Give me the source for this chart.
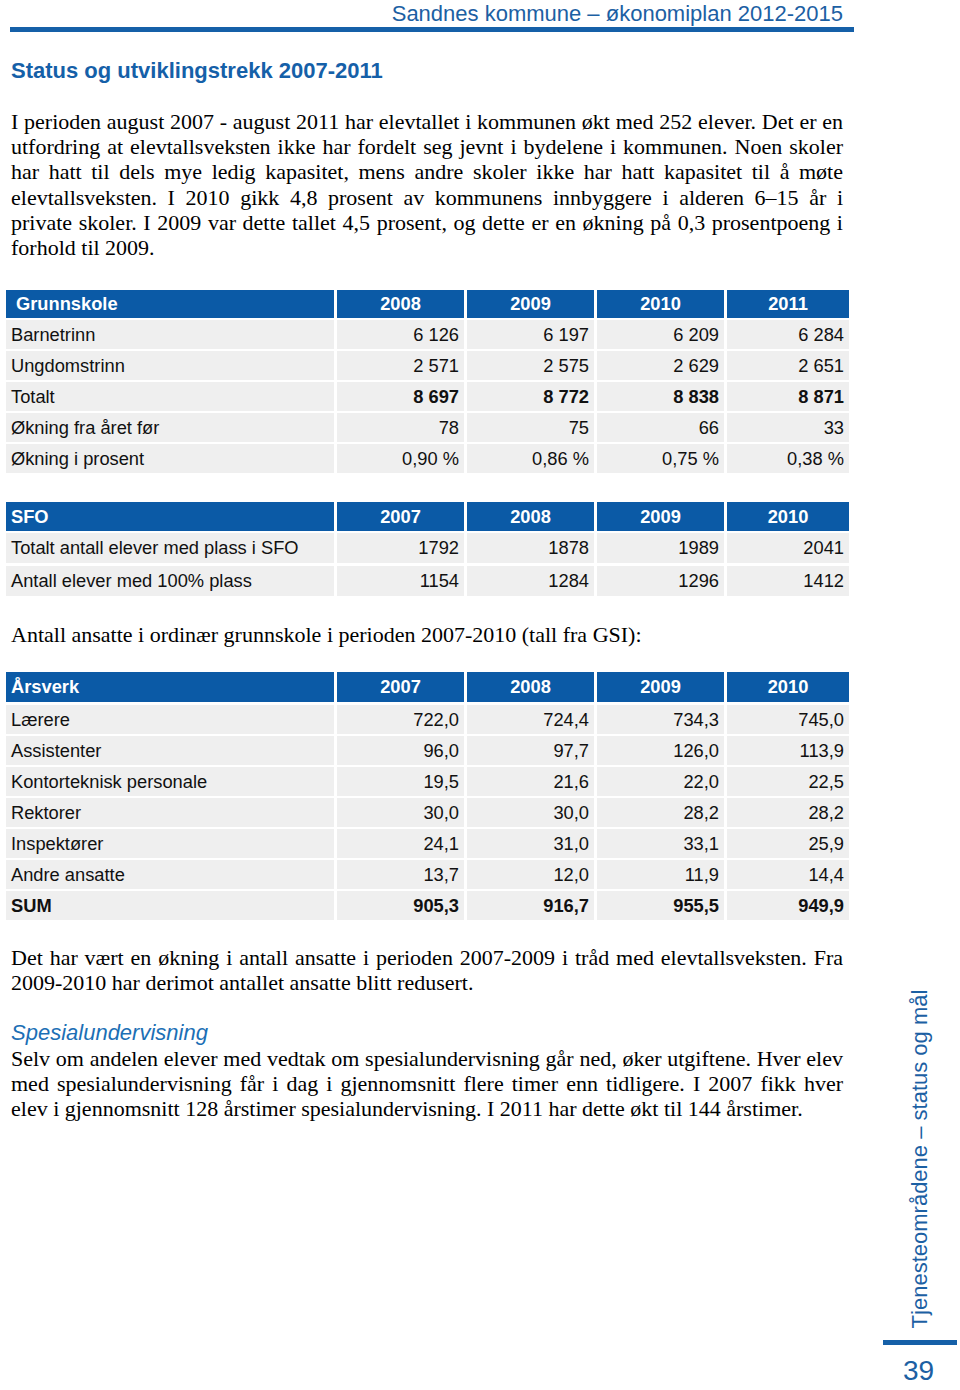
<!DOCTYPE html>
<html>
<head>
<meta charset="utf-8">
<script src="https://cdn.jsdelivr.net/npm/chart.js@4"></script>
<style>
  body { margin: 0; width: 960px; height: 1390px; background: #fff; position: relative; overflow: hidden; }
  .abs { position: absolute; }
  .serif { font-family: "Liberation Serif", "Times New Roman", serif; font-size: 22px; color: #000; }
  .line { position: absolute; left: 11px; width: 832px; white-space: nowrap; text-align: justify; text-align-last: justify; }
  .line.last { text-align-last: left; }
  .cell { position: absolute; font-family: "Liberation Sans", Arial, sans-serif; font-size: 18.3px; color: #111;
          background: #efefef; box-sizing: border-box; display: flex; align-items: center; white-space: nowrap; }
  .cell.head { background: #0b5aa6; color: #fff; font-weight: bold; }
  .cell.num { justify-content: flex-end; padding-right: 5px; }
  .cell.head.num { justify-content: center; padding-right: 0; }
  .cell.txt { padding-left: 5px; }
  .bold { font-weight: bold; }
</style>
</head>
<body>
<div id="page"></div>
<script>
// Tabell 1: Grunnskole
const gsYears = ['2008', '2009', '2010', '2011'];
const gsRows = ['Barnetrinn', 'Ungdomstrinn', 'Totalt', 'Økning fra året før', 'Økning i prosent'];
const gsBarnetrinn = ['6 126', '6 197', '6 209', '6 284'];
const gsUngdom = ['2 571', '2 575', '2 629', '2 651'];
const gsTotalt = ['8 697', '8 772', '8 838', '8 871'];
const gsOkning = ['78', '75', '66', '33'];
const gsProsent = ['0,90 %', '0,86 %', '0,75 %', '0,38 %'];

// Tabell 2: SFO
const sfoYears = ['2007', '2008', '2009', '2010'];
const sfoRows = ['Totalt antall elever med plass i SFO', 'Antall elever med 100% plass'];
const sfoTotalt = ['1792', '1878', '1989', '2041'];
const sfoFull = ['1154', '1284', '1296', '1412'];

// Tabell 3: Årsverk
const avYears = ['2007', '2008', '2009', '2010'];
const avRows = ['Lærere', 'Assistenter', 'Kontorteknisk personale', 'Rektorer', 'Inspektører', 'Andre ansatte', 'SUM'];
const avLaerere = ['722,0', '724,4', '734,3', '745,0'];
const avAssist = ['96,0', '97,7', '126,0', '113,9'];
const avKontor = ['19,5', '21,6', '22,0', '22,5'];
const avRektor = ['30,0', '30,0', '28,2', '28,2'];
const avInsp = ['24,1', '31,0', '33,1', '25,9'];
const avAndre = ['13,7', '12,0', '11,9', '14,4'];
const avSum = ['905,3', '916,7', '955,5', '949,9'];

const para1 = [
  'I perioden august 2007 - august 2011 har elevtallet i kommunen økt med 252 elever. Det er en',
  'utfordring at elevtallsveksten ikke har fordelt seg jevnt i bydelene i kommunen. Noen skoler',
  'har hatt til dels mye ledig kapasitet, mens andre skoler ikke har hatt kapasitet til å møte',
  'elevtallsveksten. I 2010 gikk 4,8 prosent av kommunens innbyggere i alderen 6–15 år i',
  'private skoler. I 2009 var dette tallet 4,5 prosent, og dette er en økning på 0,3 prosentpoeng i',
  'forhold til 2009.'
];
const para2 = [
  'Det har vært en økning i antall ansatte i perioden 2007-2009 i tråd med elevtallsveksten. Fra',
  '2009-2010 har derimot antallet ansatte blitt redusert.'
];
const para3 = [
  'Selv om andelen elever med vedtak om spesialundervisning går ned, øker utgiftene. Hver elev',
  'med spesialundervisning får i dag i gjennomsnitt flere timer enn tidligere. I 2007 fikk hver',
  'elev i gjennomsnitt 128 årstimer spesialundervisning. I 2011 har dette økt til 144 årstimer.'
];

const page = document.getElementById('page');
const colX = [6, 337, 467, 597, 727];
const colW = [328, 127, 127, 127, 122];

function el(cls, css, text) {
  const d = document.createElement('div');
  d.className = cls;
  d.style.cssText = css;
  if (text !== undefined) d.textContent = text;
  page.appendChild(d);
  return d;
}

function drawTable(title, years, labels, rows, top, headH, rowH, pitch, firstTop, boldRows, titlePad) {
  el('cell head txt', `left:${colX[0]}px;top:${top}px;width:${colW[0]}px;height:${headH}px;padding-left:${titlePad}px;`, title);
  years.forEach((y, j) => {
    el('cell head num', `left:${colX[j + 1]}px;top:${top}px;width:${colW[j + 1]}px;height:${headH}px;`, y);
  });
  labels.forEach((lab, i) => {
    const t = firstTop + i * pitch;
    const b = boldRows.includes(i) ? ' bold' : '';
    el('cell txt' + (lab === 'SUM' ? ' bold' : ''), `left:${colX[0]}px;top:${t}px;width:${colW[0]}px;height:${rowH}px;`, lab);
    rows[i].forEach((v, j) => {
      el('cell num' + b, `left:${colX[j + 1]}px;top:${t}px;width:${colW[j + 1]}px;height:${rowH}px;`, v);
    });
  });
}

function drawPara(lines, top, lh) {
  lines.forEach((ln, i) => {
    el('serif line' + (i === lines.length - 1 ? ' last' : ''), `top:${top + i * lh}px;`, ln);
  });
}

// topptekst
el('abs', 'right:117px;top:1px;font-family:"Liberation Sans",Arial,sans-serif;font-size:22px;color:#1c60a3;white-space:nowrap;',
   'Sandnes kommune – økonomiplan 2012-2015');
el('abs', 'left:10px;top:27px;width:844px;height:5px;background:#1560a8;');

el('abs', 'left:11px;top:58px;font-family:"Liberation Sans",Arial,sans-serif;font-size:22px;font-weight:bold;color:#1560a8;white-space:nowrap;',
   'Status og utviklingstrekk 2007-2011');

drawPara(para1, 109, 25.2);

drawTable('Grunnskole', gsYears, gsRows, [gsBarnetrinn, gsUngdom, gsTotalt, gsOkning, gsProsent],
          290, 28, 29, 31, 320, [2], 10);
drawTable('SFO', sfoYears, sfoRows, [sfoTotalt, sfoFull],
          502, 29, 30, 32.5, 533, [], 5);

el('serif abs', 'left:11px;top:622px;white-space:nowrap;',
   'Antall ansatte i ordinær grunnskole i perioden 2007-2010 (tall fra GSI):');

drawTable('Årsverk', avYears, avRows, [avLaerere, avAssist, avKontor, avRektor, avInsp, avAndre, avSum],
          672, 30, 29, 31, 705, [6], 5);

drawPara(para2, 945, 25.2);

el('abs', 'left:11px;top:1020px;font-family:"Liberation Sans",Arial,sans-serif;font-size:22px;font-style:italic;color:#1c6fb5;white-space:nowrap;',
   'Spesialundervisning');

drawPara(para3, 1046, 25.2);

// sidefot høyre
el('abs', 'left:920px;top:1159px;transform:translate(-50%,-50%) rotate(-90deg);font-family:"Liberation Sans",Arial,sans-serif;font-size:22px;color:#1c60a3;white-space:nowrap;',
   'Tjenesteområdene – status og mål');
el('abs', 'left:883px;top:1340px;width:74px;height:5px;background:#1560a8;');
el('abs', 'left:903px;top:1355px;font-family:"Liberation Sans",Arial,sans-serif;font-size:28px;color:#1c60a3;',
   '39');
</script>
</body>
</html>
